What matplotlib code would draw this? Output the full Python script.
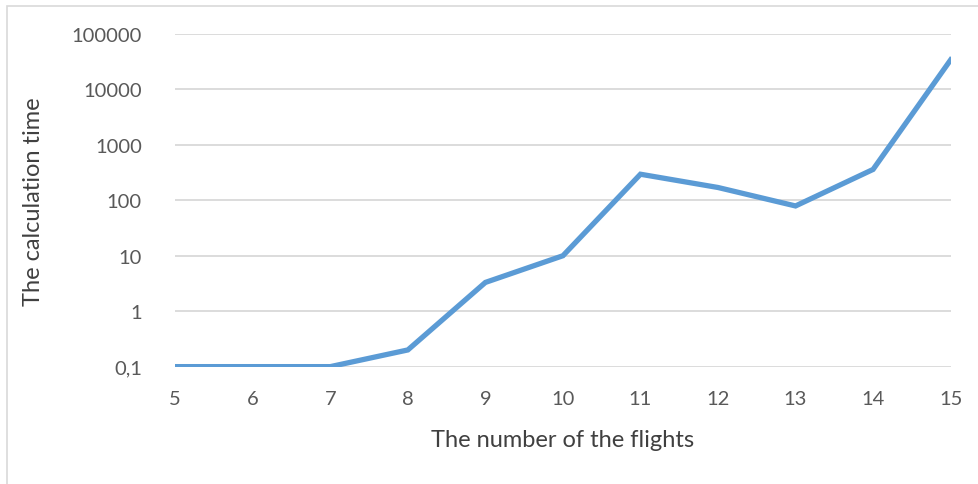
import matplotlib.pyplot as plt
from matplotlib.patches import Rectangle

# flights vs calculation time (log scale)
flights = [5, 6, 7, 8, 9, 10, 11, 12, 13, 14, 15]
calc_time = [0.1, 0.1, 0.1, 0.2, 3.3, 10, 295, 170, 79, 360, 34000]

y_ticks = [0.1, 1, 10, 100, 1000, 10000, 100000]
y_tick_labels = ['0,1', '1', '10', '100', '1000', '10000', '100000']

plt.rcParams['font.family'] = ['Lato', 'DejaVu Sans']
text_color = '#595959'

fig = plt.figure(figsize=(9.79, 4.85), dpi=100)
ax = fig.add_axes([0.179, 0.242, 0.792, 0.686])

ax.plot(flights, calc_time, color='#5B9BD5', linewidth=3.8, solid_joinstyle='miter')

ax.set_yscale('log')
ax.set_xlim(5, 15)
ax.set_ylim(0.1, 100000)
ax.set_yticks(y_ticks)
ax.set_yticklabels(y_tick_labels)
ax.minorticks_off()
ax.set_xticks(flights)
ax.grid(axis='y', color='#D9D9D9', linewidth=1.3)
ax.set_axisbelow(True)
for s in ax.spines.values():
    s.set_visible(False)
ax.tick_params(axis='both', length=0, labelsize=14.5, labelcolor=text_color)
ax.tick_params(axis='y', pad=24)
ax.tick_params(axis='x', pad=17)

ax.set_xlabel('The number of the flights', fontsize=17, color='#404040')
ax.set_ylabel('The calculation time', fontsize=17, color='#404040')
ax.xaxis.set_label_coords(0.5, -0.22, transform=ax.transAxes)
ax.yaxis.set_label_coords(-0.183, 0.5, transform=ax.transAxes)
ax.xaxis.label.set_va('center')
ax.yaxis.label.set_va('center')

# chart area border
fig.patches.append(Rectangle((7 / 979, -0.01), 1.0, 1 - 7 / 485 + 0.01,
                             transform=fig.transFigure, fill=False,
                             edgecolor='#D9D9D9', linewidth=1.2))

fig.savefig('out.png', dpi=100)
